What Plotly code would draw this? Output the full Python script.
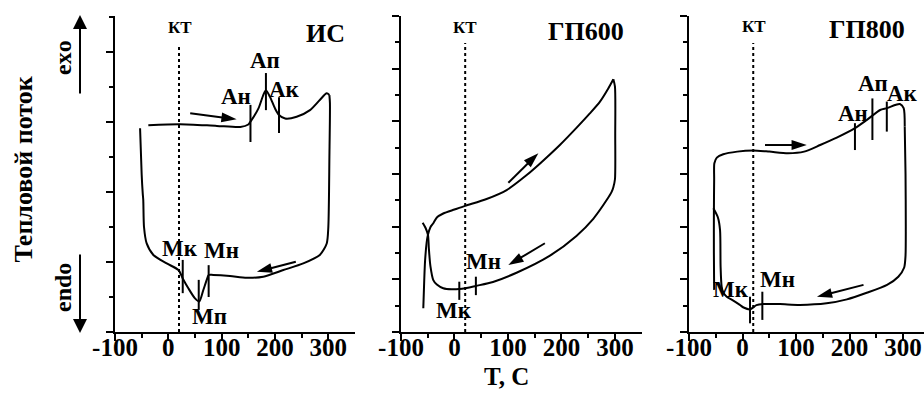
import plotly.graph_objects as go

# ---------------- data ----------------
# Panel 1: ИС
is_heat_T = [-37.5, 22, 91, 135, 150, 154, 169, 178, 183, 190.6, 200, 207.5, 219, 240.6, 265.6, 284, 297, 302]
is_heat_Q = [5.91, 5.94, 5.89, 5.86, 5.93, 6.01, 6.39, 6.77, 6.91, 6.72, 6.39, 6.2, 6.1, 6.15, 6.34, 6.63, 6.82, 6.77]
is_cool_T = [302, 303, 302, 300, 297, 284, 253, 215.6, 178, 147, 115.6, 84, 75.6, 72, 65.6, 58, 50, 37.5, 27, 19, -3, -28, -40.6, -45.6, -47, -48, -50, -53]
is_cool_Q = [6.77, 6.54, 5.0, 3.0, 2.53, 2.2, 1.96, 1.77, 1.58, 1.55, 1.6, 1.63, 1.63, 1.49, 1.2, 0.87, 0.96, 1.25, 1.53, 1.77, 1.96, 2.2, 2.53, 3.0, 3.77, 3.96, 4.5, 5.82]
is_mark_T = [154, 183, 207.5, 27, 57, 75.6]
is_mark_lo = [5.43, 6.34, 5.69, 1.11, 0.63, 1.0]
is_mark_hi = [6.49, 7.4, 6.71, 2.06, 1.49, 1.91]
is_label_text = ["Ан", "Ап", "Ак", "Мк", "Мп", "Мн"]
is_label_T = [127, 181, 217, 22, 78, 100]
is_label_Q = [6.74, 7.77, 6.94, 2.39, 0.44, 2.34]
is_arrow_T0 = [41, 239]
is_arrow_Q0 = [6.25, 2.01]
is_arrow_T1 = [128, 166]
is_arrow_Q1 = [6.08, 1.72]

# Panel 2: ГП600
gp6_heat_T = [-58.3, -56.5, -55, -52, -49.5, -45, -39.6, -33, -21, 0, 20, 60, 97.5, 135, 160, 197, 228, 253, 272, 287.5, 297]
gp6_heat_Q = [0.9, 2.0, 2.7, 3.4, 3.7, 3.98, 4.13, 4.35, 4.5, 4.65, 4.79, 5.05, 5.39, 5.96, 6.4, 7.1, 7.75, 8.3, 8.75, 9.25, 9.6]
gp6_cool_T = [297, 300, 300.5, 300, 297, 294, 284.5, 259.5, 228, 178.5, 116, 72, 40, 20, 9, -5, -21, -33, -39.6, -45, -48, -49.5, -54, -59.5]
gp6_cool_Q = [9.6, 9.32, 7.5, 5.8, 5.5, 5.33, 5.01, 4.3, 3.65, 2.9, 2.25, 1.9, 1.75, 1.66, 1.63, 1.62, 1.66, 1.8, 1.97, 2.5, 3.2, 3.68, 3.95, 4.15]
gp6_mark_T = [9, 40]
gp6_mark_lo = [1.22, 1.4]
gp6_mark_hi = [1.91, 2.1]
gp6_label_text = ["Мк", "Мн"]
gp6_label_T = [-1, 55]
gp6_label_Q = [0.8, 2.68]
gp6_arrow_T0 = [100.7, 169]
gp6_arrow_Q0 = [5.67, 3.37]
gp6_arrow_T1 = [156.8, 100.7]
gp6_arrow_Q1 = [6.79, 2.54]

# Panel 3: ГП800
gp8_heat_T = [-53, -53.5, -53.5, -53, -52.6, -48, -36, -10, 20, 50, 85, 115, 145, 176, 210, 232, 257, 270, 285, 294, 301, 303]
gp8_heat_Q = [1.6, 3.0, 4.5, 5.8, 6.41, 6.62, 6.75, 6.85, 6.89, 6.85, 6.79, 6.85, 7.1, 7.38, 7.74, 8.05, 8.43, 8.5, 8.62, 8.66, 8.5, 7.8]
gp8_cool_T = [303, 304.5, 305, 304.5, 302, 291, 270, 232, 195, 157, 107, 70, 39, 26, 14, 2, -5, -18, -29.5, -36, -39, -41, -42, -46, -54.5]
gp8_cool_Q = [7.8, 6.0, 4.0, 2.9, 2.45, 2.1, 1.79, 1.49, 1.24, 1.09, 1.03, 1.06, 1.06, 1.02, 0.86, 0.93, 1.03, 1.2, 1.34, 1.5, 1.72, 2.5, 3.87, 4.35, 4.7]
gp8_mark_T = [210, 242.6, 269.5, 14, 37]
gp8_mark_lo = [6.91, 7.29, 7.61, 0.33, 0.46]
gp8_mark_hi = [7.93, 8.87, 8.75, 1.34, 1.53]
gp8_label_text = ["Ан", "Ап", "Ак", "Мк", "Мн"]
gp8_label_T = [205.6, 244, 299, -21.5, 66]
gp8_label_Q = [8.28, 9.44, 9.04, 1.6, 2.0]
gp8_arrow_T0 = [42, 226]
gp8_arrow_Q0 = [7.1, 1.79]
gp8_arrow_T1 = [120, 139]
gp8_arrow_Q1 = [7.1, 1.34]

titles = ["ИС", "ГП600", "ГП800"]
title_T = [294, 245.8, 232.7]
title_Q = [8.54, 11.43, 11.47]
kt_T = 20
kt_top = [8.2, 10.97, 10.97]
kt_label_T = [22, 20, 21.5]
kt_label_Q = [8.69, 11.55, 11.6]

x_tickvals = [-100, 0, 100, 200, 300]
x_ticktext = ["-100", "0", "100", "200", "300"]
x_minor = [-50, 50, 150, 250]

# ---------------- figure ----------------
FONT = "Liberation Serif"
W, H = 924, 396
# horizontal placement helper (the rendered page shows the figure over 901 px starting at 23 px)
X0, XW = 23.0, 901.0


def fx(px):
    return (px - X0) / XW


def fy(py):
    return (H - py) / H


def bfont(size):
    return dict(family=FONT, size=size, color="black", weight="bold")


fig = go.Figure()

panels = [
    dict(ax="", heat=(is_heat_T, is_heat_Q), cool=(is_cool_T, is_cool_Q),
         mark=(is_mark_T, is_mark_lo, is_mark_hi),
         lab=(is_label_text, is_label_T, is_label_Q),
         arr=(is_arrow_T0, is_arrow_Q0, is_arrow_T1, is_arrow_Q1)),
    dict(ax="2", heat=(gp6_heat_T, gp6_heat_Q), cool=(gp6_cool_T, gp6_cool_Q),
         mark=(gp6_mark_T, gp6_mark_lo, gp6_mark_hi),
         lab=(gp6_label_text, gp6_label_T, gp6_label_Q),
         arr=(gp6_arrow_T0, gp6_arrow_Q0, gp6_arrow_T1, gp6_arrow_Q1)),
    dict(ax="3", heat=(gp8_heat_T, gp8_heat_Q), cool=(gp8_cool_T, gp8_cool_Q),
         mark=(gp8_mark_T, gp8_mark_lo, gp8_mark_hi),
         lab=(gp8_label_text, gp8_label_T, gp8_label_Q),
         arr=(gp8_arrow_T0, gp8_arrow_Q0, gp8_arrow_T1, gp8_arrow_Q1)),
]

line_style = dict(color="black", width=2, shape="spline", smoothing=0.7)
annotations = []
for i, p in enumerate(panels):
    xa, ya = "x" + p["ax"], "y" + p["ax"]
    for T, Q in (p["heat"], p["cool"]):
        fig.add_trace(go.Scatter(x=T, y=Q, mode="lines", line=line_style,
                                 xaxis=xa, yaxis=ya, hoverinfo="skip"))
    mx, my = [], []
    for t, lo, hi in zip(*p["mark"]):
        mx += [t, t, None]
        my += [lo, hi, None]
    fig.add_trace(go.Scatter(x=mx, y=my, mode="lines", line=dict(color="black", width=2),
                             xaxis=xa, yaxis=ya, hoverinfo="skip"))
    fig.add_trace(go.Scatter(x=[kt_T, kt_T], y=[0, kt_top[i]], mode="lines",
                             line=dict(color="black", width=2, dash="dot"),
                             xaxis=xa, yaxis=ya, hoverinfo="skip"))
    for t0, q0, t1, q1 in zip(*p["arr"]):
        fig.add_trace(go.Scatter(x=[t0, t1], y=[q0, q1], mode="lines+markers",
                                 line=dict(color="black", width=2),
                                 marker=dict(symbol="arrow", size=16, color="black",
                                             angleref="previous"),
                                 xaxis=xa, yaxis=ya, hoverinfo="skip"))
    for txt, t, q in zip(*p["lab"]):
        annotations.append(dict(x=t, y=q, xref=xa, yref=ya, text=txt, showarrow=False,
                                xanchor="center", yanchor="middle", font=bfont(23)))
    annotations.append(dict(x=title_T[i], y=title_Q[i], xref=xa, yref=ya, text=titles[i],
                            showarrow=False, xanchor="center", yanchor="middle",
                            font=bfont(26)))
    annotations.append(dict(x=kt_label_T[i], y=kt_label_Q[i], xref=xa, yref=ya, text="КТ",
                            showarrow=False, xanchor="center", yanchor="middle",
                            font=bfont(17)))

annotations += [
    dict(x=fx(22.5), y=fy(170), xref="paper", yref="paper", text="Тепловой поток",
         textangle=-90, showarrow=False, xanchor="center", yanchor="middle", font=bfont(26)),
    dict(x=fx(63), y=fy(58), xref="paper", yref="paper", text="exo",
         textangle=-90, showarrow=False, xanchor="center", yanchor="middle", font=bfont(24)),
    dict(x=fx(63), y=fy(288), xref="paper", yref="paper", text="endo",
         textangle=-90, showarrow=False, xanchor="center", yanchor="middle", font=bfont(24)),
    dict(x=fx(80), y=fy(15), xref="paper", yref="paper", text="",
         showarrow=True, ax=0, ay=80, arrowhead=2, arrowsize=1.4, arrowwidth=2,
         arrowcolor="black"),
    dict(x=fx(80), y=fy(333), xref="paper", yref="paper", text="",
         showarrow=True, ax=0, ay=-80, arrowhead=2, arrowsize=1.4, arrowwidth=2,
         arrowcolor="black"),
    dict(x=fx(506), y=fy(376), xref="paper", yref="paper", text="T, C",
         showarrow=False, xanchor="center", yanchor="middle", font=bfont(25)),
]

ydom = [fy(332), fy(16)]
common_x = dict(showline=True, linecolor="black", linewidth=2, ticks="outside", ticklen=7,
                tickwidth=2, tickcolor="black", showgrid=False, zeroline=False,
                tickmode="array", tickvals=x_tickvals, ticktext=x_ticktext,
                ticklabelstandoff=-15,
                tickfont=bfont(25),
                minor=dict(ticks="outside", ticklen=4, tickwidth=2, tickcolor="black",
                           tickmode="array", tickvals=x_minor, showgrid=False))
common_y = dict(showline=True, linecolor="black", linewidth=2, ticks="outside", ticklen=7,
                tickwidth=2, tickcolor="black", showgrid=False, zeroline=False,
                showticklabels=False, tickmode="linear", tick0=0, dtick=2, domain=ydom,
                minor=dict(ticks="outside", ticklen=4, tickwidth=2, tickcolor="black",
                           tickmode="linear", tick0=1, dtick=2, showgrid=False))

fig.update_layout(
    width=W, height=H, margin=dict(l=0, r=0, t=0, b=0),
    paper_bgcolor="white", plot_bgcolor="white", showlegend=False,
    annotations=annotations,
    xaxis=dict(common_x, domain=[fx(115), fx(355)], range=[-100, 350], anchor="y"),
    yaxis=dict(common_y, range=[0, 9.03], anchor="x"),
    xaxis2=dict(common_x, domain=[fx(401), fx(641.7)], range=[-100, 350], anchor="y2"),
    yaxis2=dict(common_y, range=[0, 12], anchor="x2"),
    xaxis3=dict(common_x, domain=[fx(689), 1.0], range=[-100, 339], anchor="y3"),
    yaxis3=dict(common_y, range=[0, 12], anchor="x3"),
)

fig.write_html("out.html")
